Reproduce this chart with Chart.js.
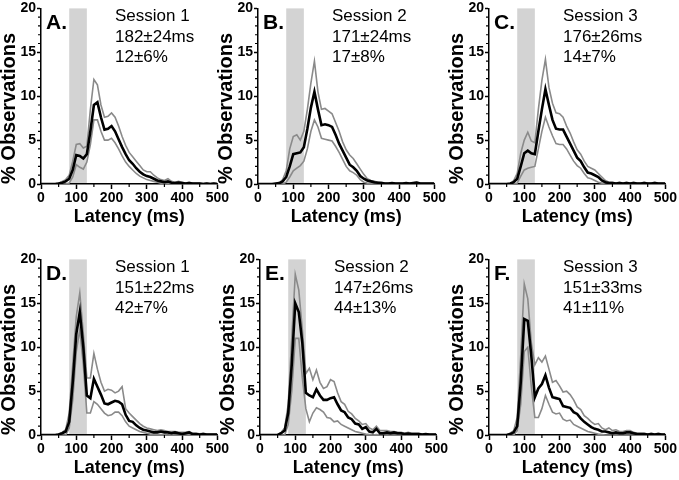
<!DOCTYPE html>
<html>
<head>
<meta charset="utf-8">
<script src="https://cdn.jsdelivr.net/npm/chart.js@4.4.1/dist/chart.umd.min.js"></script>
<style>
  html, body { margin: 0; padding: 0; background: #fff; }
  body { width: 679px; height: 480px; position: relative; overflow: hidden; }
  canvas { position: absolute; }
</style>
</head>
<body>
<script>
// latency bins (ms) and the tick values
const latencyBins = [0,10,20,30,40,50,60,70,80,90,100,110,120,130,140,150,160,170,180,190,200,
  210,220,230,240,250,260,270,280,290,300,310,320,330,340,350,360,370,380,390,400,
  410,420,430,440,450,460,470,480,490,500];
const xTicks = [0, 100, 200, 300, 400, 500];
const xMinorTicks = [50, 150, 250, 350, 450];
const yTicks = [0, 5, 10, 15, 20];
const yMinorTicks = [1,2,3,4,6,7,8,9,11,12,13,14,16,17,18,19];
const shadeRange = [80, 130];

const panelLetters = ["A.", "B.", "C.", "D.", "E.", "F."];
const sessionLabels = ["Session 1", "Session 2", "Session 3", "Session 1", "Session 2", "Session 3"];
const latencyStats = ["182±24ms", "171±24ms", "176±26ms", "151±22ms", "147±26ms", "151±33ms"];
const percentStats = ["12±6%", "17±8%", "14±7%", "42±7%", "44±13%", "41±11%"];

// % observations: mean (black) and upper / lower bounds (grey)
const meanA = [0,0,0,0,0,0.05,0.15,0.3,0.6,1.6,3.3,3.2,2.9,3.4,6.0,9.0,9.3,7.6,6.2,6.3,6.6,6.0,5.1,4.2,3.4,2.7,2.3,1.8,1.4,1.1,0.9,0.8,0.6,0.4,0.3,0.2,0.3,0.15,0.1,0.15,0.1,0.05,0.1,0.05,0.05,0.05,0,0.05,0,0.05,0];
const upperA = [0,0,0,0,0,0.1,0.3,0.5,1.0,2.6,4.5,4.6,4.1,4.3,8.5,11.9,11.3,9.0,7.6,7.7,8.1,7.6,6.6,5.4,4.4,3.6,3.1,2.6,2.1,1.6,1.4,1.4,1.0,0.7,0.5,0.4,0.6,0.3,0.2,0.3,0.2,0.1,0.2,0.1,0.1,0.1,0.05,0.1,0.05,0.1,0.05];
const lowerA = [0,0,0,0,0,0,0,0,0.1,0.8,2.2,1.9,1.7,2.5,4.5,7.3,7.3,6.0,5.0,5.0,5.2,4.7,4.0,3.2,2.5,2.0,1.6,1.2,0.9,0.7,0.5,0.4,0.3,0.2,0.1,0.05,0.1,0.05,0,0.05,0,0,0.05,0,0,0,0,0,0,0,0];

const meanB = [0,0,0,0,0,0.05,0.1,0.3,0.8,2.0,3.4,3.5,3.6,4.2,6.3,8.7,10.5,8.5,6.7,6.8,6.7,6.5,5.6,4.6,3.8,3.0,2.2,1.9,1.5,0.9,0.6,0.4,0.3,0.2,0.15,0.1,0.05,0.05,0.1,0.05,0.05,0.05,0.1,0.05,0.1,0.15,0.05,0.05,0.05,0.05,0.05];
const upperB = [0,0,0,0,0,0,0.1,0.5,1.5,4.0,5.4,5.6,5.0,6.0,8.5,11.5,14.0,10.5,8.5,8.6,8.3,8.0,7.0,6.0,4.8,3.9,3.3,2.9,2.3,1.7,1.1,0.6,0.4,0.3,0.2,0.2,0.1,0.1,0.15,0.1,0.1,0.1,0.15,0.1,0.15,0.2,0.1,0.1,0.1,0.1,0.1];
const lowerB = [0,0,0,0,0,0,0,0,0.2,0.8,1.5,1.8,2.1,2.6,4.0,6.0,7.3,6.5,5.2,5.1,5.0,4.9,4.3,3.6,2.8,2.0,1.5,1.3,1.0,0.5,0.2,0.1,0.05,0,0,0,0,0,0,0,0,0,0,0,0,0,0,0,0,0,0];

const meanC = [0,0,0,0,0,0,0.05,0.2,0.6,2.0,3.5,3.8,3.5,3.4,6.0,8.5,10.8,9.0,7.3,6.3,6.2,6.2,5.4,4.6,3.8,3.0,2.6,1.9,1.3,1.2,1.0,0.8,0.4,0.2,0.1,0.1,0.05,0.1,0.05,0.1,0.05,0.1,0.05,0.05,0.1,0.05,0.05,0.1,0.05,0.05,0.05];
const upperC = [0,0,0,0,0,0,0,0.4,1.2,3.5,5.0,5.9,4.9,4.7,8.5,11.8,14.2,11.0,9.2,8.1,8.0,7.6,6.6,5.8,4.8,3.9,3.4,2.6,2.0,1.8,1.6,1.2,0.8,0.4,0.2,0.2,0.1,0.2,0.1,0.2,0.1,0.2,0.1,0.1,0.2,0.1,0.1,0.2,0.1,0.1,0.1];
const lowerC = [0,0,0,0,0,0,0,0,0.1,0.9,1.6,1.8,1.9,2.0,4.0,6.0,7.6,6.5,5.5,4.6,4.5,4.5,4.0,3.3,2.6,2.1,1.8,1.2,0.7,0.6,0.4,0.2,0.1,0,0,0,0,0,0,0,0,0,0,0,0,0,0,0,0,0,0];

const meanD = [0,0,0,0,0,0.05,0.2,0.4,1.5,6.0,11.5,14.0,10.0,4.5,4.2,6.4,5.5,4.6,3.6,3.5,3.7,3.9,3.8,3.5,2.3,1.6,1.5,1.1,0.8,0.6,0.5,0.4,0.3,0.3,0.4,0.3,0.3,0.2,0.3,0.2,0.1,0.2,0.3,0.1,0.1,0.05,0.1,0.05,0.05,0.05,0.05];
const upperD = [0,0,0,0,0,0.1,0.3,0.6,2.5,8.0,13.5,16.2,11.5,6.5,6.5,9.3,7.5,6.0,5.0,5.2,5.1,4.8,5.0,5.5,3.0,2.5,2.1,1.7,1.3,1.0,0.8,0.7,0.6,0.5,0.6,0.5,0.4,0.4,0.4,0.3,0.3,0.3,0.4,0.2,0.2,0.15,0.2,0.1,0.1,0.1,0.1];
const lowerD = [0,0,0,0,0,0,0,0,0.8,4.0,9.5,12.0,8.0,2.5,2.5,3.8,3.5,3.0,2.5,2.2,2.3,2.6,2.6,2.2,1.5,1.0,0.8,0.6,0.4,0.3,0.2,0.1,0.1,0.05,0.05,0.05,0,0.05,0,0,0,0,0.05,0,0,0,0,0,0,0,0];

const meanE = [0,0,0,0,0,0,0.2,0.5,2.5,8.0,15.0,14.0,10.5,4.8,4.5,4.3,5.2,4.5,4.0,4.0,4.2,4.3,3.5,2.8,2.6,2.0,1.8,1.3,1.2,0.7,0.9,0.4,0.3,0.7,0.2,0.2,0.3,0.2,0.3,0.2,0.2,0.1,0.15,0.1,0.1,0.1,0.05,0.1,0.05,0.05,0.05];
const upperE = [0,0,0,0,0,0,0.3,0.8,3.5,11.0,18.3,16.5,12.0,7.0,7.6,6.3,7.4,6.0,5.3,5.5,6.3,6.1,4.8,3.8,3.5,2.7,2.4,1.9,1.6,1.2,1.3,0.8,0.6,1.0,0.5,0.5,0.5,0.4,0.4,0.3,0.3,0.2,0.3,0.2,0.2,0.2,0.1,0.15,0.1,0.1,0.1];
const lowerE = [0,0,0,0,0,0,0,0,1.2,5.0,11.0,11.0,6.5,3.0,1.5,2.5,3.1,2.9,2.6,2.0,1.9,1.5,1.6,1.2,1.0,0.8,0.6,0.4,0.3,0.2,0.1,0.05,0,0.05,0,0,0,0,0,0,0,0,0,0,0,0,0,0,0,0,0];

const meanF = [0,0,0,0,0,0,0.1,0.3,1.0,6.0,13.2,13.0,9.0,4.3,5.3,5.8,6.8,5.4,4.3,4.2,4.1,3.3,3.2,3.1,2.6,2.4,1.9,1.5,1.2,0.9,0.7,0.6,0.4,0.4,0.3,0.2,0.3,0.2,0.2,0.3,0.3,0.2,0.1,0.1,0.1,0.05,0.1,0.05,0.1,0.05,0.05];
const upperF = [0,0,0,0,0,0,0.2,0.5,2.0,9.0,17.2,15.5,10.5,8.0,8.8,8.3,9.0,7.5,6.0,6.2,5.6,4.9,5.0,4.6,4.0,3.2,2.9,2.2,1.9,1.5,1.2,1.3,0.8,0.6,0.8,0.5,0.6,0.4,0.4,0.5,0.5,0.3,0.2,0.2,0.2,0.1,0.2,0.1,0.2,0.1,0.1];
const lowerF = [0,0,0,0,0,0,0,0,0.5,3.5,9.5,10.0,5.5,2.0,2.0,3.0,4.5,3.5,2.6,2.4,2.5,1.8,1.6,1.7,1.2,1.0,0.8,0.6,0.4,0.3,0.2,0.1,0.05,0,0,0,0,0,0,0,0,0,0,0,0,0,0,0,0,0,0];

const panelSeries = [
    [meanA, upperA, lowerA],
    [meanB, upperB, lowerB],
    [meanC, upperC, lowerC],
    [meanD, upperD, lowerD],
    [meanE, upperE, lowerE],
    [meanF, upperF, lowerF],
];

// where each canvas sits on the page
const panelBoxes = [
    { left: 0, top: -1 },
    { left: 217, top: -1 },
    { left: 448, top: -1 },
    { left: 0, top: 250 },
    { left: 219, top: 250 },
    { left: 448, top: 250 },
];

const FONT = "'Liberation Sans', Arial, sans-serif";
const CANVAS_W = 230;
const CANVAS_H = 230;

// grey window behind the curves
const shadePlugin = {
    id: "shade",
    beforeDraw(chart) {
        const { ctx, chartArea, scales } = chart;
        const x1 = scales.x.getPixelForValue(shadeRange[0]);
        const x2 = scales.x.getPixelForValue(shadeRange[1]);
        ctx.save();
        ctx.fillStyle = "#d3d3d3";
        ctx.fillRect(x1, chartArea.top, x2 - x1, chartArea.bottom - chartArea.top);
        ctx.restore();
    },
};

// minor tick marks, chart.js has none for linear axes
const minorTickPlugin = {
    id: "minorTicks",
    afterDraw(chart) {
        const { ctx, chartArea, scales } = chart;
        ctx.save();
        ctx.strokeStyle = "#000";
        ctx.lineWidth = 1.2;
        ctx.beginPath();
        xMinorTicks.forEach((v) => {
            const px = scales.x.getPixelForValue(v);
            ctx.moveTo(px, chartArea.bottom);
            ctx.lineTo(px, chartArea.bottom + 3);
        });
        yMinorTicks.forEach((v) => {
            const py = scales.y.getPixelForValue(v);
            ctx.moveTo(chartArea.left, py);
            ctx.lineTo(chartArea.left - 3, py);
        });
        ctx.stroke();
        ctx.restore();
    },
};

// panel letter and the session text
const labelPlugin = {
    id: "panelText",
    afterDraw(chart, args, opts) {
        const { ctx, chartArea } = chart;
        const i = opts.index;
        ctx.save();
        ctx.fillStyle = "#000";
        ctx.textBaseline = "alphabetic";
        ctx.textAlign = "left";
        ctx.font = "bold 21px " + FONT;
        ctx.fillText(panelLetters[i], chartArea.left + 5, chartArea.top + 21);
        ctx.font = "17px " + FONT;
        const tx = chartArea.left + 74;
        ctx.fillText(sessionLabels[i], tx, chartArea.top + 13);
        ctx.fillText(latencyStats[i], tx, chartArea.top + 33.5);
        ctx.fillText(percentStats[i], tx, chartArea.top + 54);
        ctx.restore();
    },
};

function toPoints(values) {
    return latencyBins.map((x, i) => ({ x: x, y: values[i] }));
}

function makePanel(i) {
    const canvas = document.createElement("canvas");
    canvas.width = CANVAS_W;
    canvas.height = CANVAS_H;
    canvas.style.left = panelBoxes[i].left + "px";
    canvas.style.top = panelBoxes[i].top + "px";
    document.body.appendChild(canvas);

    const [mean, upper, lower] = panelSeries[i];

    new Chart(canvas, {
        type: "line",
        data: {
            datasets: [
                { data: toPoints(mean), borderColor: "#000", borderWidth: 2.6 },
                { data: toPoints(upper), borderColor: "#8a8a8a", borderWidth: 1.6 },
                { data: toPoints(lower), borderColor: "#8a8a8a", borderWidth: 1.6 },
            ],
        },
        options: {
            responsive: false,
            animation: false,
            elements: { point: { radius: 0 }, line: { tension: 0 } },
            layout: { padding: { left: 0, top: 8, right: CANVAS_W - 41 - 177, bottom: 0 } },
            plugins: {
                legend: { display: false },
                tooltip: { enabled: false },
                panelText: { index: i },
            },
            scales: {
                x: {
                    type: "linear",
                    min: 0,
                    max: 500,
                    afterBuildTicks: (s) => { s.ticks = xTicks.map((v) => ({ value: v })); },
                    afterFit: (s) => { s.height = CANVAS_H - 8 - 177; },
                    grid: { drawOnChartArea: false, drawTicks: true, tickLength: 5, tickColor: "#000", tickWidth: 1.5 },
                    border: { color: "#000", width: 1.5 },
                    ticks: { color: "#000", padding: 1, maxRotation: 0, autoSkip: false, font: { family: FONT, size: 14, weight: "bold" } },
                    title: {
                        display: true,
                        text: "Latency (ms)",
                        color: "#000",
                        font: { family: FONT, size: 18, weight: "bold" },
                        padding: { top: 0, bottom: 1 },
                    },
                },
                y: {
                    type: "linear",
                    min: 0,
                    max: 20,
                    afterBuildTicks: (s) => { s.ticks = yTicks.map((v) => ({ value: v })); },
                    afterFit: (s) => { s.width = 41; },
                    grid: { drawOnChartArea: false, drawTicks: true, tickLength: 4, tickColor: "#000", tickWidth: 1.5 },
                    border: { color: "#000", width: 1.5 },
                    ticks: { color: "#000", padding: 1, font: { family: FONT, size: 14, weight: "bold" } },
                    title: {
                        display: true,
                        text: "% Observations",
                        align: "start",
                        color: "#000",
                        font: { family: FONT, size: 20, weight: "bold", lineHeight: 0.9 },
                        padding: { top: 0, bottom: 0 },
                    },
                },
            },
        },
        plugins: [shadePlugin, minorTickPlugin, labelPlugin],
    });
}

for (let i = 0; i < 6; i++) {
    makePanel(i);
}
</script>
</body>
</html>
